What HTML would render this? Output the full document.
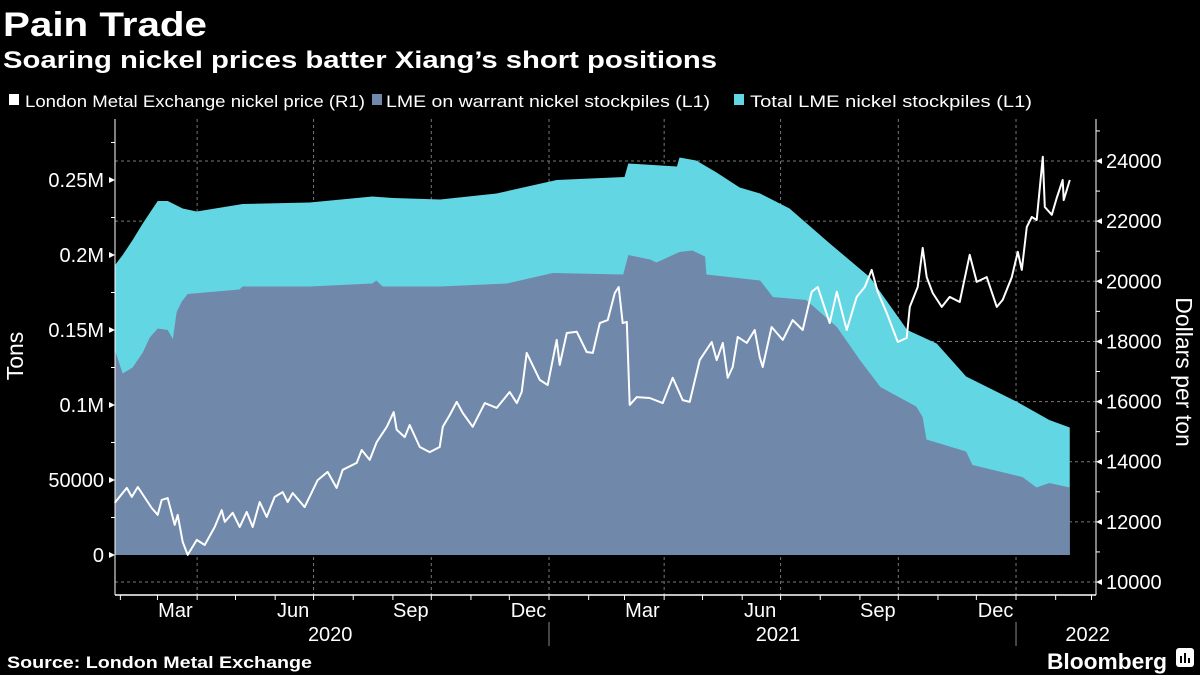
<!DOCTYPE html>
<html><head><meta charset="utf-8"><style>
html,body{margin:0;padding:0;background:#000;}
svg{display:block;font-family:"Liberation Sans Narrow","Liberation Sans",sans-serif;}
</style></head><body>
<svg id="chart" width="1200" height="675" viewBox="0 0 1200 675" xmlns="http://www.w3.org/2000/svg">
<rect width="1200" height="675" fill="#000"/>
<text x="3" y="36" fill="#fff" font-size="34" font-weight="bold" textLength="204" lengthAdjust="spacingAndGlyphs" font-family="Liberation Sans">Pain Trade</text>
<text x="3" y="68" fill="#fff" font-size="24" font-weight="bold" textLength="714" lengthAdjust="spacingAndGlyphs" font-family="Liberation Sans">Soaring nickel prices batter Xiang’s short positions</text>
<g font-size="17" fill="#fff">
 <g><rect x="9" y="94" width="10" height="11" fill="#fff"/><text x="25" y="107" textLength="340" lengthAdjust="spacingAndGlyphs">London Metal Exchange nickel price (R1)</text></g>
 <g><rect x="372" y="94" width="10" height="11" fill="#7088aa"/><text x="386" y="107" textLength="324" lengthAdjust="spacingAndGlyphs">LME on warrant nickel stockpiles (L1)</text></g>
 <g><rect x="734" y="94" width="10" height="11" fill="#63d6e4"/><text x="750" y="107" textLength="282" lengthAdjust="spacingAndGlyphs">Total LME nickel stockpiles (L1)</text></g>
</g>
<g id="grid"></g>
<g id="areas"></g>
<g id="line"></g>
<g id="axes"></g>
<text transform="translate(23,356) rotate(-90)" text-anchor="middle" fill="#fff" font-size="23">Tons</text>
<text transform="translate(1176,372) rotate(90)" text-anchor="middle" fill="#fff" font-size="23">Dollars per ton</text>
<text x="7" y="668" fill="#fff" font-size="17" font-weight="bold" textLength="305" lengthAdjust="spacingAndGlyphs" font-family="Liberation Sans">Source: London Metal Exchange</text>
<text x="1047" y="669" fill="#fff" font-size="22" font-weight="bold" textLength="120" lengthAdjust="spacingAndGlyphs" font-family="Liberation Sans">Bloomberg</text>
<g><rect x="1176" y="648" width="18" height="19" rx="3" fill="#fff"/><rect x="1180" y="656" width="2" height="7" fill="#000"/><rect x="1184" y="653" width="2" height="10" fill="#000"/><rect x="1188" y="658" width="2" height="5" fill="#000"/></g>
</svg>
<script>
// days since 2020-01-01
const totalDays=[26.6,32.8,40.6,48.5,55.5,60.2,68,79.7,90.7,126.6,179,228,244,281,325,372,425,428,466,468,481,497,515,531,554,585,617,646,669,692,732,757,773];
const totalVals=[193,200,210,221,230,236,236,231,229,234,235,239,238,237,241,250,252,261,259,265,263,255,245,241,231,208,185,150,141,119,102,90,85];
const warrantDays=[26.6,32.8,40.6,48.5,54,60.2,68,72,75,79,83.6,124,126.6,179,228,231,236,281,333,369,424,428,445,450,468,478,488,489,531,541,567,591,609,625,653,658,661,692,697,736,747,757,773];
const warrantVals=[137,121,125,135,145,151,150,144,162,169,174,177,179,179,181,183,179,179,181,188,187,200,197,195,202,203,199,187,183,172,170,152,130,112,99,92,77,69,60,52,45,48,45];
const priceDays=[26.6,36,39.9,44.6,55.5,60.2,63.3,68,73.5,75.8,79.7,83.6,90.7,96.9,104.7,110.2,112.6,118.8,124.3,129.7,134.4,139.9,145.4,151.6,157.9,161.8,165.7,175,185.2,193,200,204.8,215.7,219.6,225.9,231.4,239.2,244.6,247,253.2,257.1,265,272.8,280.6,283,288.4,293.9,298.6,306.4,315.8,325.1,335.3,340.8,344.7,348.6,358.8,365,372,374.4,379.9,387.7,395.5,400.2,405.7,411.9,417.4,420.5,423.6,426.8,429.1,434.6,444.7,454.9,462.7,470.5,476,483.8,493.2,497.1,501.8,505.7,509.6,513.5,520.6,526.8,530.7,533,540,548.7,556.5,564.3,571.3,576,585.4,590.9,598.7,606.5,612.8,618.2,622.9,629.9,638.6,645.6,648,654.2,658.1,661.2,665.9,673,679.2,687,694.8,700.3,708.1,716,720.6,727.7,732.4,735.5,739.4,743.3,747.2,751.9,753.5,759,762.8,767.5,768.3,773];
const priceVals=[12630,13130,12830,13160,12460,12230,12730,12790,11900,12230,11330,10900,11400,11230,11830,12390,12000,12300,11830,12330,11830,12660,12160,12830,12990,12660,12960,12490,13390,13660,13130,13730,13960,14390,14060,14660,15160,15650,15060,14820,15220,14490,14320,14490,15160,15550,15990,15620,15160,15950,15790,16320,15950,16320,17620,16720,16550,18050,17220,18280,18320,17650,17620,18610,18710,19610,19810,18610,18650,15890,16150,16120,15950,16790,16050,15990,17380,17980,17380,17950,16790,17150,18150,17950,18380,17480,17150,18480,18050,18710,18380,19650,19810,18610,19650,18380,19480,19810,20380,19650,18950,17980,18120,19150,19810,21110,20140,19610,19150,19480,19310,20880,19980,20140,19150,19380,20140,20980,20380,21810,22140,22040,24140,22470,22210,22770,23370,22700,23370];
const leftTicks=[0,50000,100000,150000,200000,250000];
const leftTickLabels=["0","50000","0.1M","0.15M","0.2M","0.25M"];
const rightTicks=[10000,12000,14000,16000,18000,20000,22000,24000];
const monthLabels=["Mar","Jun","Sep","Dec","Mar","Jun","Sep","Dec"];
const monthLabelDays=[74,166,258,350,439,531,623,715];
const gridDays=[91,182,274,366,456,547,639,731];
const yearLabels=["2020","2021","2022"];
const yearLabelDays=[195,545,787];
const yearSepDays=[366,731];
const monthStartDays=[31,60,91,121,152,182,213,244,274,305,335,366,397,425,456,486,517,547,578,609,639,670,700,731,762,790];

const NS="http://www.w3.org/2000/svg";
const X0=115,X1=1096,YB=595;
const xS=d=>80.7+d*1.2795;
const yL=v=>555-v*75/50000;
const yR=p=>582-(p-10000)*30.07/1000;
function mk(tag,attrs,parent){const e=document.createElementNS(NS,tag);for(const k in attrs)e.setAttribute(k,attrs[k]);parent.appendChild(e);return e;}
const grid=document.getElementById('grid'),areas=document.getElementById('areas'),line=document.getElementById('line'),axes=document.getElementById('axes');

// grid
rightTicks.forEach(p=>{const l=mk('line',{x1:X0,x2:X1,y1:yR(p),y2:yR(p),stroke:'#777','stroke-width':1,'stroke-dasharray':'3,3'},grid);

});
gridDays.forEach(d=>{const l=mk('line',{x1:xS(d),x2:xS(d),y1:119,y2:YB,stroke:'#777','stroke-width':1,'stroke-dasharray':'3,3'},grid);

});

function areaPath(days,vals){let s='M'+xS(days[0])+','+yL(0);days.forEach((d,i)=>{s+=' L'+xS(d)+','+yL(vals[i]*1000);});s+=' L'+xS(days[days.length-1])+','+yL(0)+'Z';return s;}
const at=mk('path',{d:areaPath(totalDays,totalVals),fill:'#63d6e4'},areas);


const aw=mk('path',{d:areaPath(warrantDays,warrantVals),fill:'#7088aa'},areas);



let pd='';priceDays.forEach((d,i)=>{pd+=(i?' L':'M')+xS(d).toFixed(1)+','+yR(priceVals[i]).toFixed(1);});
const pl=mk('path',{d:pd,fill:'none',stroke:'#fff','stroke-width':2,'stroke-linejoin':'round'},line);



// axes lines
const al=mk('line',{x1:X0,x2:X0,y1:119,y2:YB,stroke:'#fff','stroke-width':1},axes);


const ar=mk('line',{x1:X1,x2:X1,y1:119,y2:YB,stroke:'#fff','stroke-width':1},axes);


const ab=mk('line',{x1:X0,x2:X1,y1:YB,y2:YB,stroke:'#fff','stroke-width':1.5},axes);



leftTicks.forEach((v,i)=>{const y=yL(v);
 const t=mk('text',{x:104,y:y+7,'text-anchor':'end',fill:'#fff','font-size':20},axes);t.textContent=leftTickLabels[i];
 
 
 mk('path',{d:`M${X0},${y} L${X0-6},${y-3} L${X0-6},${y+3}Z`,fill:'#fff'},axes);});
for(let v=25000;v<=275000;v+=50000){mk('line',{x1:X0-4,x2:X0,y1:yL(v),y2:yL(v),stroke:'#fff'},axes);}
rightTicks.forEach(p=>{const y=yR(p);
 const t=mk('text',{x:1106,y:y+7,fill:'#fff','font-size':20},axes);t.textContent=String(p);
 
 
 mk('path',{d:`M${X1},${y} L${X1+6},${y-3} L${X1+6},${y+3}Z`,fill:'#fff'},axes);});
for(let p=11000;p<=25000;p+=2000){mk('line',{x1:X1,x2:X1+4,y1:yR(p),y2:yR(p),stroke:'#fff'},axes);}
monthStartDays.forEach(d=>{mk('line',{x1:xS(d),x2:xS(d),y1:YB,y2:YB+5,stroke:'#fff'},axes);});
monthLabels.forEach((m,i)=>{const t=mk('text',{x:xS(monthLabelDays[i]),y:617,'text-anchor':'middle',fill:'#fff','font-size':20},axes);t.textContent=m;
 
 });
yearLabels.forEach((m,i)=>{const t=mk('text',{x:xS(yearLabelDays[i]),y:641,'text-anchor':'middle',fill:'#fff','font-size':20},axes);t.textContent=m;
 
 });
yearSepDays.forEach(d=>{const l=mk('line',{x1:xS(d),x2:xS(d),y1:622,y2:646,stroke:'#888'},axes);
 
 });
</script>
</body></html>
